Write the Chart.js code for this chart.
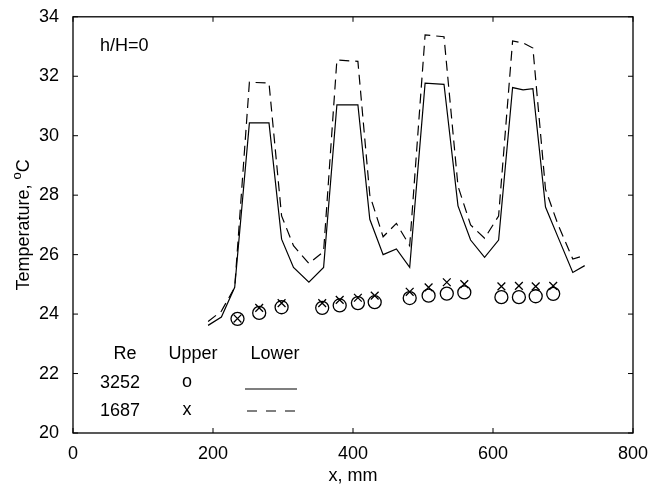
<!DOCTYPE html>
<html>
<head>
<meta charset="utf-8">
<script src="https://cdn.jsdelivr.net/npm/chart.js@4.4.1/dist/chart.umd.min.js"></script>
<style>
  html, body { margin: 0; padding: 0; background: #fff; }
  #wrap { width: 652px; height: 490px; }
</style>
</head>
<body>
<div id="wrap"><canvas id="chart"></canvas></div>
<script>
// lower wall (lines), x in mm
const xLower = [193, 212, 231, 252, 280, 298, 315, 337, 358, 377, 407, 424, 443, 462, 481,
                503, 530, 550, 568, 588, 608, 628, 643, 657, 675, 693, 714, 731];
const lower3252 = [23.62, 23.9, 24.9, 30.43, 30.43, 26.52, 25.57, 25.07, 25.57, 31.04, 31.04, 27.19, 26.0, 26.19, 25.57,
                   31.77, 31.73, 27.64, 26.49, 25.91, 26.49, 31.62, 31.54, 31.58, 27.6, 26.58, 25.4, 25.63];
const lower1687 = [23.75, 24.1, 24.9, 31.8, 31.77, 27.3, 26.3, 25.7, 26.1, 32.55, 32.5, 28.0, 26.6, 27.05, 26.3,
                   33.39, 33.33, 28.3, 27.0, 26.55, 27.3, 33.19, 33.12, 32.95, 28.2, 27.0, 25.85, 25.97];

// upper wall (markers)
const xUpper = [235, 266, 298, 356, 381, 407, 431, 481, 508, 534, 559, 612, 637, 661, 686];
const upper3252 = [23.84, 24.04, 24.23, 24.21, 24.29, 24.37, 24.40, 24.54, 24.62, 24.69, 24.73, 24.57, 24.57, 24.6, 24.68];
const upper1687 = [23.85, 24.21, 24.37, 24.37, 24.48, 24.55, 24.62, 24.75, 24.9, 25.07, 25.01, 24.93, 24.95, 24.93, 24.95];

const xTicks = [0, 200, 400, 600, 800];
const yTicks = [20, 22, 24, 26, 28, 30, 32, 34];

const FONT = "'Liberation Sans', Arial, Helvetica, sans-serif";

function pts(xs, ys) {
  return xs.map((x, i) => ({ x: x, y: ys[i] }));
}

// box, inward ticks, annotations (matlab look)
const decorPlugin = {
  id: 'decor',
  afterDraw(chart) {
    const ctx = chart.ctx;
    const a = chart.chartArea;
    const xs = chart.scales.x, ys = chart.scales.y;
    ctx.save();
    ctx.strokeStyle = '#000';
    ctx.lineWidth = 1.3;
    ctx.strokeRect(a.left, a.top, a.right - a.left, a.bottom - a.top);
    ctx.lineWidth = 1;
    ctx.beginPath();
    xTicks.forEach(v => {
      const px = xs.getPixelForValue(v);
      ctx.moveTo(px, a.bottom); ctx.lineTo(px, a.bottom - 5);
      ctx.moveTo(px, a.top); ctx.lineTo(px, a.top + 5);
    });
    yTicks.forEach(v => {
      const py = ys.getPixelForValue(v);
      ctx.moveTo(a.left, py); ctx.lineTo(a.left + 5, py);
      ctx.moveTo(a.right, py); ctx.lineTo(a.right - 5, py);
    });
    ctx.stroke();

    ctx.fillStyle = '#000';
    ctx.font = '18px ' + FONT;
    ctx.textBaseline = 'middle';
    ctx.textAlign = 'left';
    ctx.fillText('h/H=0', 100, 46);

    // legend table
    ctx.textAlign = 'center';
    ctx.fillText('Re', 125, 354);
    ctx.fillText('Upper', 193, 354);
    ctx.fillText('Lower', 275, 354);
    ctx.fillText('3252', 120, 383);
    ctx.fillText('o', 187, 382);
    ctx.fillText('1687', 120, 411);
    ctx.fillText('x', 187, 410);
    ctx.lineWidth = 1.2;
    ctx.beginPath();
    ctx.moveTo(245, 389); ctx.lineTo(297, 389);
    ctx.stroke();
    ctx.setLineDash([10, 9]);
    ctx.beginPath();
    ctx.moveTo(247, 411); ctx.lineTo(296, 411);
    ctx.stroke();
    ctx.setLineDash([]);

    // axis titles
    ctx.textAlign = 'center';
    ctx.fillText('x, mm', (a.left + a.right) / 2, 476);

    ctx.translate(24, (a.top + a.bottom) / 2);
    ctx.rotate(-Math.PI / 2);
    const t1 = 'Temperature, ';
    ctx.font = '18px ' + FONT;
    const w1 = ctx.measureText(t1).width;
    ctx.font = '13px ' + FONT;
    const w2 = ctx.measureText('o').width;
    ctx.font = '18px ' + FONT;
    const w3 = ctx.measureText('C').width;
    let sx = -(w1 + w2 + w3) / 2;
    ctx.textAlign = 'left';
    ctx.fillText(t1, sx, 0);
    ctx.font = '13px ' + FONT;
    ctx.fillText('o', sx + w1, -7);
    ctx.font = '18px ' + FONT;
    ctx.fillText('C', sx + w1 + w2, 0);
    ctx.restore();
  }
};

Chart.defaults.font.family = FONT;
Chart.defaults.font.size = 18;
Chart.defaults.color = '#000';

const ctx = document.getElementById('chart').getContext('2d');
const chart = new Chart(ctx, {
  type: 'line',
  data: {
    datasets: [
      {
        label: '3252 lower',
        data: pts(xLower, lower3252),
        borderColor: '#000',
        borderWidth: 1.2,
        pointRadius: 0,
        fill: false,
        tension: 0
      },
      {
        label: '1687 lower',
        data: pts(xLower, lower1687),
        borderColor: '#000',
        borderWidth: 1.2,
        borderDash: [10, 6],
        pointRadius: 0,
        fill: false,
        tension: 0
      },
      {
        label: '3252 upper',
        data: pts(xUpper, upper3252),
        showLine: false,
        pointStyle: 'circle',
        pointRadius: 6.5,
        pointBorderWidth: 1.3,
        pointBorderColor: '#000',
        pointBackgroundColor: 'rgba(0,0,0,0)'
      },
      {
        label: '1687 upper',
        data: pts(xUpper, upper1687),
        showLine: false,
        pointStyle: 'crossRot',
        pointRadius: 5.5,
        pointBorderWidth: 1.3,
        pointBorderColor: '#000'
      }
    ]
  },
  options: {
    responsive: true,
    maintainAspectRatio: false,
    animation: false,
    events: [],
    layout: { padding: { top: 15, right: 19, left: 0, bottom: 0 } },
    scales: {
      x: {
        type: 'linear',
        min: 0,
        max: 800,
        afterBuildTicks: (s) => { s.ticks = xTicks.map(v => ({ value: v })); },
        afterFit: (s) => { s.height = 57; },
        grid: { display: false },
        border: { display: false },
        ticks: { padding: 2, maxRotation: 0 }
      },
      y: {
        type: 'linear',
        min: 20,
        max: 34,
        afterBuildTicks: (s) => { s.ticks = yTicks.map(v => ({ value: v })); },
        afterFit: (s) => { s.width = 73; },
        grid: { display: false },
        border: { display: false },
        ticks: { padding: 6 }
      }
    },
    plugins: {
      legend: { display: false },
      tooltip: { enabled: false }
    }
  },
  plugins: [decorPlugin]
});
</script>
</body>
</html>
